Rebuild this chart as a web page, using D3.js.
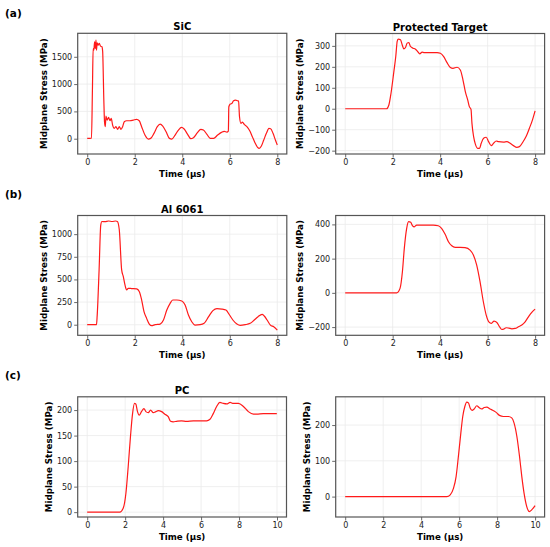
<!DOCTYPE html>
<html><head><meta charset="utf-8">
<script src="https://cdn.jsdelivr.net/npm/d3@7"></script>
<style>body{margin:0;background:#fff} svg{display:block} text{font-family:"DejaVu Sans",sans-serif}</style>
</head><body><svg id="c" width="550" height="547"></svg>
<script>
// ---------- data ----------
const sicTime   = [0,0.18,0.22,0.25,0.28,0.31,0.34,0.37,0.39,0.42,0.46,0.51,0.56,0.62,0.65,0.70,0.73,0.76,0.79,0.84,0.90,0.96,1.01,1.07,1.14,1.21,1.28,1.35,1.42,1.49,1.56,1.66,1.80,1.94,2.08,2.19,2.29,2.43,2.57,2.67,2.81,2.95,3.07,3.18,3.32,3.46,3.56,3.70,3.84,3.97,4.08,4.22,4.36,4.47,4.64,4.78,4.89,5.04,5.18,5.32,5.49,5.65,5.77,5.88,5.94,5.96,6.02,6.09,6.16,6.24,6.33,6.37,6.41,6.47,6.53,6.61,6.72,6.84,6.95,7.06,7.17,7.24,7.33,7.43,7.54,7.65,7.72,7.82,7.92,8.0];
const sicStress = [5,10,900,1650,1622,1774,1652,1805,1622,1756,1713,1744,1695,1683,1600,700,300,220,415,341,390,329,372,250,189,220,171,220,171,220,311,329,329,341,354,329,220,67,-6,6,98,220,268,232,128,6,-6,67,159,207,177,85,0,18,110,171,159,79,6,6,67,116,134,122,140,585,634,646,695,707,695,690,402,280,305,262,220,146,37,-73,-159,-177,-134,-24,98,189,183,98,-24,-116];

const ptTime   = [0,1.74,1.84,1.93,2.05,2.13,2.19,2.23,2.33,2.40,2.47,2.54,2.61,2.68,2.75,2.86,2.96,3.05,3.14,3.24,3.33,3.52,3.73,3.87,4.01,4.15,4.29,4.43,4.54,4.71,4.85,4.96,5.06,5.16,5.23,5.30,5.34,5.41,5.48,5.58,5.66,5.73,5.83,5.94,6.04,6.15,6.25,6.36,6.46,6.67,6.81,6.95,7.09,7.23,7.34,7.48,7.62,7.76,7.89,8.0];
const ptStress = [0,0,18,74,177,249,321,332,329,305,286,292,313,316,297,289,284,273,262,270,268,268,268,268,265,249,220,197,193,198,185,138,82,42,10,-3,-70,-133,-168,-189,-189,-165,-141,-136,-157,-176,-165,-154,-157,-159,-157,-165,-176,-184,-181,-160,-133,-93,-53,-10];

const alTime   = [0,0.39,0.42,0.50,0.57,0.62,0.75,0.90,1.05,1.20,1.27,1.35,1.45,1.52,1.59,1.66,1.73,1.87,2.08,2.19,2.29,2.39,2.50,2.62,2.71,2.86,3.07,3.21,3.35,3.49,3.60,3.77,3.98,4.12,4.26,4.40,4.54,4.75,4.92,5.11,5.29,5.46,5.67,5.84,5.99,6.13,6.30,6.44,6.65,6.86,7.03,7.19,7.36,7.45,7.57,7.71,7.85,8.0];
const alStress = [0,0,100,600,1100,1140,1138,1145,1140,1145,1140,1048,605,531,439,384,402,399,395,367,275,144,70,4,-11,0,7,52,162,236,273,273,262,218,107,33,-4,0,15,89,155,177,173,162,107,52,7,-7,0,15,52,89,114,96,52,-4,-22,-59];

const al2Time   = [0,2.17,2.31,2.41,2.49,2.59,2.67,2.76,2.84,2.91,3.01,3.22,3.43,3.71,3.92,4.06,4.21,4.35,4.49,4.63,4.84,5.05,5.26,5.40,5.54,5.68,5.82,5.94,6.05,6.16,6.27,6.39,6.50,6.60,6.67,6.78,6.89,7.02,7.16,7.30,7.44,7.58,7.72,7.86,8.0];
const al2Stress = [0,0,26,123,260,377,416,412,392,386,396,396,396,396,392,377,342,299,275,266,266,264,250,221,162,65,-52,-130,-169,-178,-165,-173,-198,-214,-212,-204,-206,-210,-208,-198,-188,-169,-140,-114,-95];

const pcTime   = [0,1.72,1.90,2.04,2.16,2.28,2.39,2.49,2.56,2.65,2.74,2.86,2.99,3.09,3.22,3.34,3.48,3.62,3.74,3.92,4.09,4.27,4.39,4.53,4.71,4.97,5.23,5.59,5.94,6.29,6.47,6.64,6.82,6.99,7.17,7.35,7.53,7.70,7.97,8.23,8.49,8.76,8.93,9.28,9.63,9.99];
const pcStress = [0,0,8,37,89,148,193,213,212,197,190,197,203,197,195,200,195,197,199,197,192,187,178,177,178,179,178,179,179,179,182,193,207,215,213,212,215,213,213,207,197,192,192,193,193,193];

const pc2Time   = [0,5.35,5.53,5.70,5.84,5.96,6.09,6.19,6.30,6.40,6.49,6.58,6.68,6.79,6.93,7.05,7.19,7.32,7.46,7.63,7.81,7.98,8.12,8.33,8.60,8.77,8.89,9.04,9.18,9.30,9.42,9.56,9.70,9.82,10.0];
const pc2Stress = [0,0,5,23,56,112,178,224,252,264,262,248,241,245,254,249,245,249,250,245,240,234,227,224,224,220,206,168,112,56,9,-28,-42,-37,-25];

const titles   = ["SiC","Protected Target","Al 6061","","PC",""];
const rowTags  = ["(a)","(b)","(c)"];
const xTicks8  = [0,2,4,6,8];
const xTicks10 = [0,2,4,6,8,10];
const yTicks   = [[0,500,1000,1500],[-200,-100,0,100,200,300],[0,250,500,750,1000],[-200,0,200,400],[0,50,100,150,200],[0,100,200]];
const xLabel = "Time (μs)";
const yLabel = "Midplane Stress (MPa)";

// ---------- layout ----------
const svg = d3.select("#c");
const panels = [
  {t:sicTime, v:sicStress, x:[77.7,286.8], y:[33.3,154],   xd:[-0.4,8.4], yd:[-280,1930], xt:xTicks8,  ylx:44},
  {t:ptTime,  v:ptStress,  x:[335.7,544.6],y:[33.5,154],   xd:[-0.4,8.4], yd:[-216,359],  xt:xTicks8,  ylx:300},
  {t:alTime,  v:alStress,  x:[77.7,286.8], y:[215.5,335.3],xd:[-0.4,8.4], yd:[-117,1206], xt:xTicks8,  ylx:44},
  {t:al2Time, v:al2Stress, x:[335.7,544.6],y:[215.5,335.3],xd:[-0.4,8.4], yd:[-248,452],  xt:xTicks8,  ylx:300},
  {t:pcTime,  v:pcStress,  x:[77.7,286.5], y:[396.8,517],  xd:[-0.5,10.5],yd:[-9.5,226],  xt:xTicks10, ylx:49},
  {t:pc2Time, v:pc2Stress, x:[335.7,544.6],y:[396.8,517],  xd:[-0.5,10.5],yd:[-57,279],   xt:xTicks10, ylx:307}
];

const defs = svg.append("defs");
panels.forEach((p,i)=>{
  const xs = d3.scaleLinear().domain(p.xd).range(p.x);
  const ys = d3.scaleLinear().domain(p.yd).range([p.y[1],p.y[0]]);
  const g = svg.append("g");
  const w = p.x[1]-p.x[0], h = p.y[1]-p.y[0];
  defs.append("clipPath").attr("id","cl"+i).append("rect")
    .attr("x",p.x[0]).attr("y",p.y[0]).attr("width",w).attr("height",h);
  // grid
  g.selectAll(".gx").data(p.xt).join("line")
    .attr("x1",d=>xs(d)).attr("x2",d=>xs(d)).attr("y1",p.y[0]).attr("y2",p.y[1])
    .attr("stroke","#ebebeb").attr("stroke-width",0.8);
  g.selectAll(".gy").data(yTicks[i]).join("line")
    .attr("y1",d=>ys(d)).attr("y2",d=>ys(d)).attr("x1",p.x[0]).attr("x2",p.x[1])
    .attr("stroke","#ebebeb").attr("stroke-width",0.8);
  // axes
  const ax = g.append("g").attr("transform",`translate(0,${p.y[1]})`)
    .call(d3.axisBottom(xs).tickValues(p.xt).tickSize(3.5).tickPadding(2).tickFormat(d3.format("d")));
  const ay = g.append("g").attr("transform",`translate(${p.x[0]},0)`)
    .call(d3.axisLeft(ys).tickValues(yTicks[i]).tickSize(3.5).tickPadding(2).tickFormat(d3.format("d")));
  [ax,ay].forEach(a=>{
    a.select(".domain").remove();
    a.selectAll("line").attr("stroke","#444").attr("stroke-width",0.8);
    a.selectAll("text").attr("font-size",8).attr("fill","#222").attr("font-family","DejaVu Sans");
  });
  // line
  const data = p.t.map((t,k)=>[t,p.v[k]]);
  g.append("path").datum(data).attr("clip-path",`url(#cl${i})`)
    .attr("fill","none").attr("stroke","#ff1a1a").attr("stroke-width",1.2)
    .attr("d", d3.line().x(d=>xs(d[0])).y(d=>ys(d[1])).curve(d3.curveMonotoneX));
  // frame
  g.append("rect").attr("x",p.x[0]).attr("y",p.y[0]).attr("width",w).attr("height",h)
    .attr("fill","none").attr("stroke","#555").attr("stroke-width",1.2);
  // title
  if (titles[i]) g.append("text").attr("x",(p.x[0]+p.x[1])/2).attr("y",p.y[0]-3)
    .attr("text-anchor","middle").attr("font-size",10).attr("font-weight","bold").text(titles[i]);
  // labels
  g.append("text").attr("x",(p.x[0]+p.x[1])/2).attr("y",p.y[1]+22.5)
    .attr("text-anchor","middle").attr("font-size",8.7).attr("font-weight","bold").text(xLabel);
  g.append("text").attr("transform",`translate(${p.ylx+3},${(p.y[0]+p.y[1])/2}) rotate(-90)`)
    .attr("text-anchor","middle").attr("font-size",8.7).attr("font-weight","bold").text(yLabel);
});
const tagY = [16.5,198,379];
rowTags.forEach((t,r)=>{
  svg.append("text").attr("x",5).attr("y",tagY[r]).attr("font-size",10.5).attr("font-weight","bold").text(t);
});
</script></body></html>
